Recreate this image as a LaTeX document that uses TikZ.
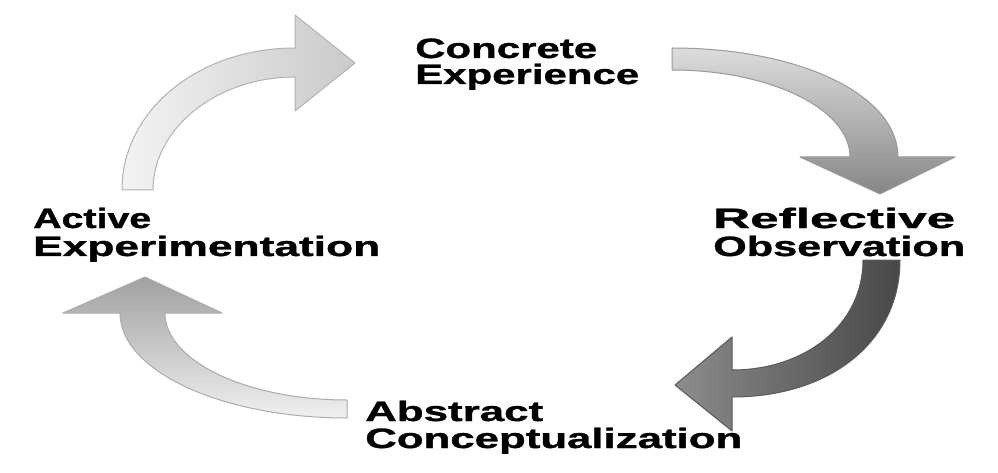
\documentclass[tikz,border=0pt]{standalone}
\usepackage{fontspec}
\usepackage{graphicx}
\newfontfamily\labfont{Liberation Sans}[BoldFeatures={FakeBold=1}]
\definecolor{aoneL}{HTML}{F3F3F3}
\definecolor{aoneR}{HTML}{CACACA}
\definecolor{aoneE}{HTML}{B2B2B2}
\definecolor{atwoT}{HTML}{DCDCDC}
\definecolor{atwoB}{HTML}{868686}
\definecolor{atwoE}{HTML}{9A9A9A}
\definecolor{athrL}{HTML}{8C8C8C}
\definecolor{athrR}{HTML}{484848}
\definecolor{athrE}{HTML}{5A5A5A}
\definecolor{afouT}{HTML}{A0A0A0}
\definecolor{afouB}{HTML}{F0F0F0}
\definecolor{afouE}{HTML}{ABABAB}
% two stretched lines; baseline of the result = baseline of the first line
\newcommand\labtwo[5]{\vtop{\baselineskip=#1\lineskiplimit=-100pt\lineskip=0pt
  \hbox{\resizebox{#2}{\height}{#3}}\hbox{\resizebox{#4}{\height}{#5}}}}
\tikzset{
  lab/.style={anchor=base west, inner sep=0pt, font=\labfont\bfseries\fontsize{28}{28}\selectfont, text=black},
  blockarrow/.style={line width=1pt, line join=round}
}
\begin{document}
\begin{tikzpicture}[x=1pt,y=-1pt]
\useasboundingbox (0,0) rectangle (998,473);
\fill[white] (0,0) rectangle (998,473);

% Arrow 1: Active Experimentation -> Concrete Experience
\path[blockarrow, draw=aoneE, left color=aoneL, right color=aoneR]
  (122,190) .. controls (122,110) and (199,48) .. (295,48)
  -- (295,15) -- (355,63) -- (295,111) -- (295,77)
  .. controls (217,77) and (153,128) .. (153,190) -- cycle;

% Arrow 2: Concrete Experience -> Reflective Observation
\path[blockarrow, draw=atwoE, top color=atwoT, bottom color=atwoB]
  (672,48) .. controls (800,48) and (898,95) .. (898,157)
  -- (955,157) -- (880,194) -- (800,157) -- (850,157)
  .. controls (850,109) and (770,70) .. (672,70) -- cycle;

% Arrow 3: Reflective Observation -> Abstract Conceptualization
\path[blockarrow, draw=athrE, left color=athrL, right color=athrR]
  (900,260) .. controls (900,342) and (830,397) .. (732,397)
  -- (732,431) -- (675,385) -- (732,337) -- (732,370)
  .. controls (805,370) and (863,325) .. (863,260) -- cycle;

% Arrow 4: Abstract Conceptualization -> Active Experimentation
\path[blockarrow, draw=afouE, top color=afouT, bottom color=afouB]
  (347,418) .. controls (222,418) and (120,371) .. (120,313)
  -- (63,313) -- (145,277) -- (222,313) -- (165,313)
  .. controls (165,361) and (247,400) .. (347,400) -- cycle;

% Labels
\node[lab] (ce) at (415,58)  {\labtwo{26pt}{182pt}{Concrete}{224pt}{Experience}};
\node[lab] (ae) at (33,228)  {\labtwo{28pt}{118pt}{Active}{347pt}{Experimentation}};
\node[lab] (ro) at (713,228) {\labtwo{28pt}{242pt}{Reflective}{252pt}{Observation}};
\node[lab] (ac) at (365,421) {\labtwo{27pt}{178pt}{Abstract}{377pt}{Conceptualization}};
\end{tikzpicture}
\end{document}
